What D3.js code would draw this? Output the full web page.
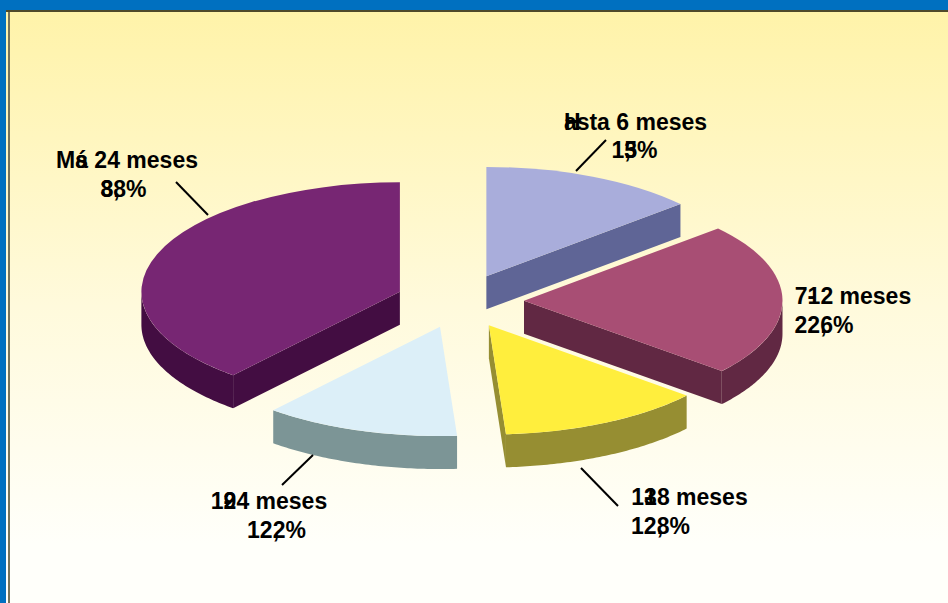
<!DOCTYPE html>
<html><head><meta charset="utf-8">
<style>html,body{margin:0;padding:0;background:#fff}svg{display:block}</style>
<script src="https://cdn.jsdelivr.net/npm/d3@7/dist/d3.min.js"></script>
</head><body><svg id="c" width="948" height="603"></svg>
<script>
// --- data
const categories = ["Hasta 6 meses","7-12 meses","13-18 meses","19-24 meses","Más 24 meses"];
const shares = [13.5,22.6,12.8,12.2,38.8];
const topColors = ["#A9ADDB","#A84E74","#FFEE3D","#DCEFF8","#772673"];
const sideColors = ["#5F6596","#612843","#968E32","#7C9596","#430D42"];
// Overprinted glyph runs in the reference: a run ending in "|" does not advance the pen.
const nameRuns = [["H|","asta 6 meses"],["7","-|","12 meses"],["1","3|","-|","18 meses"],["1","9|","-|","24 meses"],["M","á|","s 24 meses"]];
const shareRuns = [["1","3|",",|","5%"],["22",",|","6%"],["12",",|","8%"],["12",",|","2%"],["3|","8",",|","8%"]];

// --- layout
const W=948,H=603,cx=460,cy=301,rx=258.5,tilt=0.423,depth=33,explode=64;
const labelPos=[[635.5,130,"middle"],[853,304,"middle"],[689.5,505,"middle"],[269,509,"middle"],[127,168,"middle"]];
const sharePos=[[634.5,158],[824,333],[660.5,534],[276.5,538],[123.5,197]];
const leaders=[[576,171,606,140],[208,215,176,182],[581,468,618,506],[313,455,282,485]];
const font='"Liberation Sans",Arial,sans-serif',fs=23;

const svg=d3.select("#c");
const defs=svg.append("defs");
const g=defs.append("linearGradient").attr("id","bg").attr("x1",0).attr("y1",0).attr("x2",0).attr("y2",1);
g.append("stop").attr("offset",0).attr("stop-color","#FFF3A9");
g.append("stop").attr("offset",0.5).attr("stop-color","#FFFADC");
g.append("stop").attr("offset",0.9).attr("stop-color","#FFFFFA");
svg.append("rect").attr("width",W).attr("height",H).attr("fill","#0070C0");
svg.append("rect").attr("x",6).attr("y",10).attr("width",W-6).attr("height",H-10).attr("fill","url(#bg)");
svg.append("rect").attr("x",6).attr("y",10).attr("width",W-6).attr("height",2).attr("fill","#4F4A2A");
svg.append("rect").attr("x",8).attr("y",12).attr("width",2).attr("height",H-12).attr("fill","#77735A");

const arcs=d3.pie().sort(null).value(d=>d)(shares);
const arc=d3.arc().innerRadius(0).outerRadius(rx);
const ptX=(a,r)=>r*Math.sin(a), ptY=(a,r)=>-r*Math.cos(a)*tilt;
const line=d3.line();
const order=[0,4,1,3,2];
order.forEach(i=>{
  const d=arcs[i],mid=(d.startAngle+d.endAngle)/2;
  const ax=cx+explode*Math.sin(mid), ay=cy-explode*Math.cos(mid)*tilt;
  const s=svg.append("g").attr("transform",`translate(${ax},${ay})`);
  const wall=a=>[[0,0],[ptX(a,rx),ptY(a,rx)],[ptX(a,rx),ptY(a,rx)+depth],[0,depth]];
  if(d.startAngle>Math.PI) s.append("path").attr("d",line(wall(d.startAngle))+"Z").attr("fill",sideColors[i]);
  if(d.endAngle<Math.PI) s.append("path").attr("d",line(wall(d.endAngle))+"Z").attr("fill",sideColors[i]);
  const a0=Math.max(d.startAngle,Math.PI/2),a1=Math.min(d.endAngle,Math.PI*1.5);
  if(a1>a0){
    const as=d3.range(0,61).map(k=>a0+(a1-a0)*k/60);
    const pts=as.map(a=>[ptX(a,rx),ptY(a,rx)]).concat(as.slice().reverse().map(a=>[ptX(a,rx),ptY(a,rx)+depth]));
    s.append("path").attr("d",line(pts)+"Z").attr("fill",sideColors[i]);
  }
  s.append("path").attr("transform",`scale(1,${tilt})`).attr("d",arc(d)).attr("fill",topColors[i]);
});

leaders.forEach(l=>svg.append("line")
  .attr("x1",l[0]).attr("y1",l[1]).attr("x2",l[2]).attr("y2",l[3])
  .attr("stroke","#000").attr("stroke-width",2));

const probe=svg.append("text").attr("font-family",font).attr("font-size",fs).attr("font-weight",700).attr("visibility","hidden");
const width=t=>{probe.text(t);return probe.node().getComputedTextLength();};
function runs(parent,list,x,y){
  let total=0;
  list.forEach(r=>{ if(!r.endsWith("|")) total+=width(r); });
  const t=parent.append("text").attr("x",x-total/2).attr("y",y).attr("font-family",font).attr("font-size",fs).attr("font-weight",700).attr("fill","#000");
  let back=0;
  list.forEach(r=>{
    const over=r.endsWith("|"),txt=over?r.slice(0,-1):r;
    const ts=t.append("tspan").text(txt);
    if(back) ts.attr("dx",-back);
    back=over?width(txt):0;
  });
}
categories.forEach((c,i)=>{
  runs(svg,nameRuns[i],labelPos[i][0],labelPos[i][1]);
  runs(svg,shareRuns[i],sharePos[i][0],sharePos[i][1]);
});
probe.remove();
</script></body></html>
